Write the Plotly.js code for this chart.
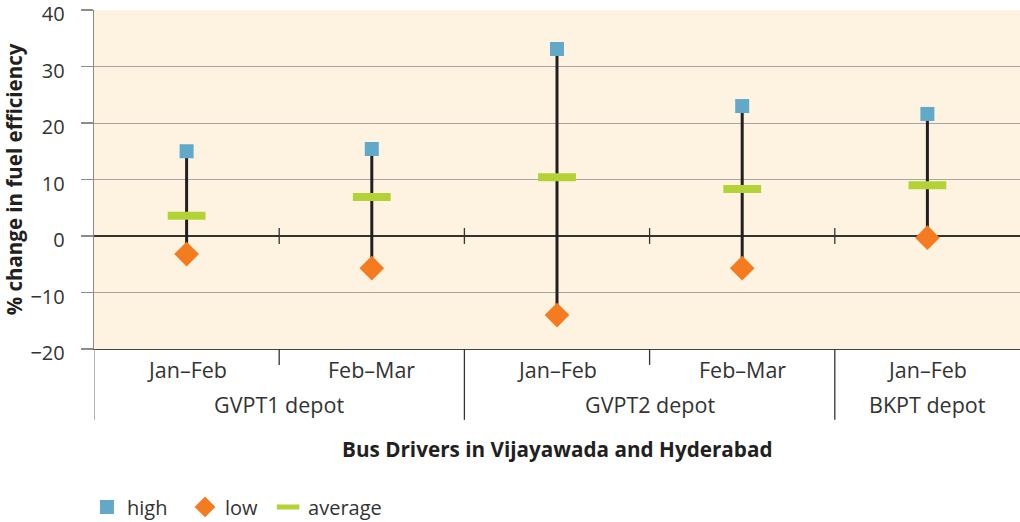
<!DOCTYPE html>
<html>
<head>
<meta charset="utf-8">
<script src="https://cdn.plot.ly/plotly-3.0.1.min.js"></script>
<style>html,body{margin:0;padding:0;background:#fff;}#chart{width:1020px;height:522px;}</style>
</head>
<body>
<div id="chart"></div>
<script>
const periods = ['Jan–Feb', 'Feb–Mar', 'Jan–Feb', 'Feb–Mar', 'Jan–Feb'];
const depots = ['GVPT1 depot', 'GVPT1 depot', 'GVPT2 depot', 'GVPT2 depot', 'BKPT depot'];
const high = [15.0, 15.4, 33.1, 23.0, 21.6];
const low = [-3.2, -5.7, -14.0, -5.7, -0.3];
const average = [3.6, 6.9, 10.4, 8.3, 9.0];
const yTicks = [-20, -10, 0, 10, 20, 30, 40];

const FONT = 'Open Sans, Lato, sans-serif';
const TXT = '#333333';
const idx = periods.map((_, i) => i);

// high-low connector lines
const lx = [], ly = [];
idx.forEach(i => { lx.push(i, i, null); ly.push(low[i], high[i], null); });

const traces = [
  {x: lx, y: ly, mode: 'lines', line: {color: '#231F20', width: 3}, showlegend: false, hoverinfo: 'skip'},
  {x: idx, y: high, name: 'high', mode: 'markers', legend: 'legend', marker: {symbol: 'square', size: 14, color: '#62A8C8'}},
  {x: idx, y: low, name: 'low', mode: 'markers', legend: 'legend2', marker: {symbol: 'diamond', size: 19, color: '#F47B20'}},
  {x: idx, y: average, name: 'average', mode: 'markers', legend: 'legend3',
   marker: {symbol: 'line-ew-open', size: 27, color: '#B2D235', line: {color: '#B2D235', width: 8}}}
];

const shapes = [];
const annotations = [];
const outerY = -0.209, innerY = -0.047;
shapes.push({type: 'line', xref: 'x', yref: 'paper', x0: -0.5, x1: -0.5, y0: 0, y1: outerY, line: {color: '#888888', width: 1.3}});
for (let i = 0; i < periods.length - 1; i++) {
  const b = i + 0.5;
  const outer = depots[i] !== depots[i + 1];
  shapes.push({type: 'line', xref: 'x', yref: 'paper', x0: b, x1: b, y0: 0, y1: outer ? outerY : innerY, line: {color: '#333333', width: 1.3}});
  shapes.push({type: 'line', xref: 'x', yref: 'y', x0: b, x1: b, y0: -1.4, y1: 1.4, line: {color: '#333333', width: 1.3}});
}
idx.forEach(i => annotations.push({xref: 'x', yref: 'paper', x: i, y: -0.06, yanchor: 'middle', showarrow: false,
  text: periods[i], font: {family: FONT, size: 21.5, color: TXT}}));
const groups = [];
depots.forEach((d, i) => { const g = groups.find(q => q.name === d); if (g) g.idx.push(i); else groups.push({name: d, idx: [i]}); });
groups.forEach(g => annotations.push({xref: 'x', yref: 'paper', x: g.idx.reduce((a, b) => a + b, 0) / g.idx.length, y: -0.163,
  yanchor: 'middle', showarrow: false, text: g.name, font: {family: FONT, size: 21.5, color: TXT}}));
annotations.push({xref: 'paper', yref: 'paper', x: 0.5, y: -0.295, yanchor: 'middle', showarrow: false,
  text: '<b>Bus Drivers in Vijayawada and Hyderabad</b>', font: {family: FONT, size: 20.7, color: '#231F20'}});

const legendBase = {orientation: 'h', xanchor: 'left', y: -0.466, yanchor: 'middle',
  font: {family: FONT, size: 20, color: TXT}, bgcolor: 'rgba(0,0,0,0)', borderwidth: 0};

const layout = {
  width: 1020, height: 522,
  margin: {l: 94, r: 0, t: 10, b: 173, autoexpand: false},
  paper_bgcolor: '#ffffff', plot_bgcolor: '#FEF3E0',
  font: {family: FONT, color: TXT},
  xaxis: {range: [-0.5, 4.5], showgrid: false, showticklabels: false, zeroline: false,
          showline: true, linecolor: '#444444', linewidth: 1.3, ticks: '', fixedrange: true},
  yaxis: {range: [-20, 40], tickvals: yTicks, gridcolor: '#A6A6A6', gridwidth: 1,
          zeroline: true, zerolinecolor: '#333333', zerolinewidth: 1.3,
          showline: true, linecolor: '#8C8C8C', linewidth: 1.3, ticklabeloverflow: 'allow', ticklabelshift: 4,
          ticks: 'outside', ticklen: 12, tickcolor: '#8C8C8C', tickwidth: 1.3, ticklabelstandoff: 12,
          tickfont: {family: FONT, size: 20, color: TXT},
          title: {text: '<b>% change in fuel efficiency</b>', standoff: 6, font: {family: FONT, size: 20.5, color: '#231F20'}}},
  legend: Object.assign({}, legendBase, {x: -0.0076}),
  legend2: Object.assign({}, legendBase, {x: 0.0983}),
  legend3: Object.assign({}, legendBase, {x: 0.188}),
  shapes: shapes,
  annotations: annotations,
  showlegend: true
};

Plotly.newPlot('chart', traces, layout, {displayModeBar: false, staticPlot: true});
</script>
</body>
</html>
